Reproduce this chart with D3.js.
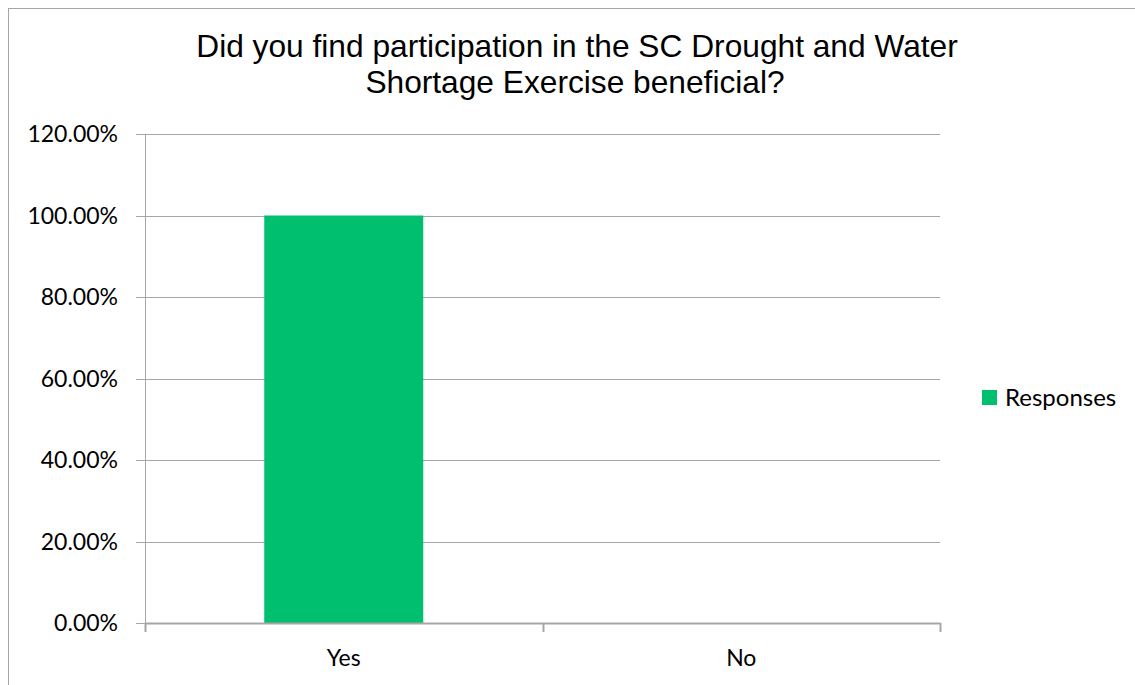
<!DOCTYPE html>
<html><head><meta charset="utf-8">
<script src="https://cdn.jsdelivr.net/npm/d3@7"></script>
<style>body{margin:0;background:#fff}svg{display:block}</style>
</head><body>
<svg id="c" width="1135" height="685"></svg>
<script>
const categories = ["Yes", "No"];
const responses = [1.0, 0.0];
const yTicks = [0, 0.2, 0.4, 0.6, 0.8, 1.0, 1.2];
const seriesName = "Responses";
const titleLines = ["Did you find participation in the SC Drought and Water", "Shortage Exercise beneficial?"];

const svg = d3.select("#c");
const axisFont = "Lato, 'Open Sans', sans-serif";
svg.append("rect").attr("x", 8.5).attr("y", 8.5).attr("width", 1140).attr("height", 690)
  .attr("fill", "#fff").attr("stroke", "#a6a6a6").attr("stroke-width", 1);

const L = 145, R = 940, T = 134, B = 623;
const y = d3.scaleLinear().domain([0, 1.2]).range([B, T]);
const x = d3.scaleBand().domain(categories).range([L, R]).paddingInner(0.6).paddingOuter(0.3);
const xc = d3.scaleBand().domain(categories).range([L, R]).padding(0);

// gridlines
svg.append("g").selectAll("line").data(yTicks).join("line")
  .attr("x1", L - 9).attr("x2", R).attr("y1", d => Math.round(y(d)) + 0.5).attr("y2", d => Math.round(y(d)) + 0.5)
  .attr("stroke", "#a6a6a6").attr("stroke-width", 1);

// y axis line
svg.append("line").attr("x1", L + 0.5).attr("x2", L + 0.5).attr("y1", T).attr("y2", B + 9)
  .attr("stroke", "#a6a6a6");

// y tick labels
svg.append("g").selectAll("text").data(yTicks).join("text")
  .attr("x", 118).attr("y", d => y(d)).attr("dy", "0.36em").attr("text-anchor", "end")
  .attr("font-family", axisFont).attr("font-size", 23).attr("fill", "#000")
  .text(d => d3.format(".2%")(d));

// bars
svg.append("g").selectAll("rect").data(categories).join("rect")
  .attr("x", d => x(d)).attr("width", x.bandwidth())
  .attr("y", (d, i) => y(responses[i])).attr("height", (d, i) => y(0) - y(responses[i]))
  .attr("fill", "#00c070");

// x axis line & ticks
svg.append("line").attr("x1", L).attr("x2", R + 0.5).attr("y1", B + 0.5).attr("y2", B + 0.5)
  .attr("stroke", "#a6a6a6").attr("stroke-width", 2);
const bounds = [...categories.map(c => xc(c)), R];
svg.append("g").selectAll("line").data(bounds).join("line")
  .attr("x1", d => Math.round(d) + 0.5).attr("x2", d => Math.round(d) + 0.5).attr("y1", B).attr("y2", B + 9)
  .attr("stroke", "#a6a6a6").attr("stroke-width", 2);

// x labels
svg.append("g").selectAll("text").data(categories).join("text")
  .attr("x", d => xc(d) + xc.bandwidth() / 2).attr("y", 666).attr("text-anchor", "middle")
  .attr("font-family", axisFont).attr("font-size", 23).attr("fill", "#000")
  .text(d => d);

// title
svg.append("g").selectAll("text").data(titleLines).join("text")
  .attr("x", (d, i) => i === 0 ? 577 : 575).attr("y", (d, i) => 57 + i * 36).attr("text-anchor", "middle")
  .attr("font-family", "'Liberation Sans', Arial, sans-serif").attr("font-size", 31.7).attr("fill", "#000")
  .text(d => d);

// legend
const lg = svg.append("g").attr("transform", "translate(982,390)");
lg.append("rect").attr("width", 15).attr("height", 15).attr("fill", "#00c070");
lg.append("text").attr("x", 23).attr("y", 15.5).attr("font-family", axisFont).attr("font-size", 24)
  .attr("fill", "#000").text(seriesName);
</script>
</body></html>
